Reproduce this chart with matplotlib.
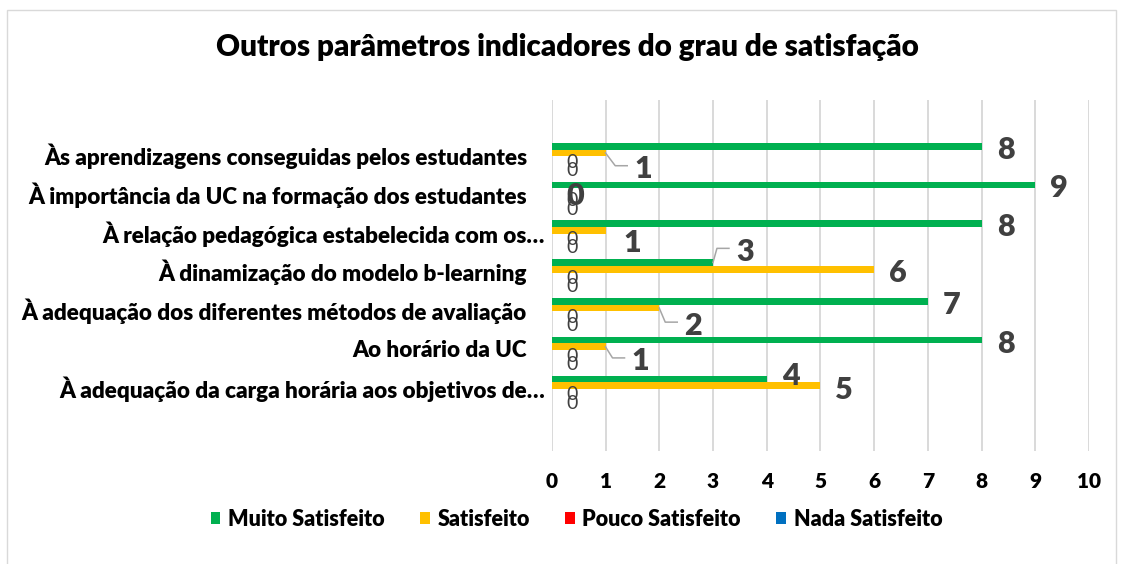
import matplotlib
matplotlib.use("Agg")
import matplotlib.pyplot as plt
import matplotlib.transforms as mtransforms
from matplotlib.patches import Patch, Rectangle

plt.rcParams['font.family'] = ['Lato', 'DejaVu Sans']

# data
cats = [
    "Às aprendizagens conseguidas pelos estudantes",
    "À importância da UC na formação dos estudantes",
    "À relação pedagógica estabelecida com os…",
    "À dinamização do modelo b-learning",
    "À adequação dos diferentes métodos de avaliação",
    "Ao horário da UC",
    "À adequação da carga horária aos objetivos de…",
]
series_names = ["Muito Satisfeito", "Satisfeito", "Pouco Satisfeito", "Nada Satisfeito"]
muito = [8, 9, 8, 3, 7, 8, 4]
satisfeito = [1, 0, 1, 6, 2, 1, 5]
pouco = [0, 0, 0, 0, 0, 0, 0]
nada = [0, 0, 0, 0, 0, 0, 0]
colors = ["#00B050", "#FFC000", "#FF0000", "#0070C0"]

W, H = 1124, 564
fig = plt.figure(figsize=(W / 100, H / 100), dpi=100)
fig.patch.set_facecolor("white")

# plot area in pixels (from the reference)
left, right, top, bottom = 551.8, 1089, 99.5, 451
ax = fig.add_axes([left / W, 1 - bottom / H, (right - left) / W, (bottom - top) / H])

bh = 0.173
offs = [-1.5 * bh, -0.5 * bh, 0.5 * bh, 1.5 * bh]
allvals = [muito, satisfeito, pouco, nada]
ypos = list(range(len(cats)))

for k, vals in enumerate(allvals):
    ax.barh([y + offs[k] for y in ypos], vals, height=bh, color=colors[k],
            edgecolor="none", zorder=3)

ax.set_xlim(0, 10)
ax.set_ylim(7.6, -1.464)
ax.set_xticks(range(0, 11))
ax.set_yticks([])
ax.grid(axis="x", color="#D9D9D9", lw=1.4, zorder=0)
ax.set_axisbelow(True)
for sp in ax.spines.values():
    sp.set_visible(False)
ax.tick_params(axis="x", length=0, labelsize=15, pad=15)
for lab in ax.get_xticklabels():
    lab.set_fontweight("heavy")

# category labels
lab_tr = ax.get_yaxis_transform()
for y, c in zip(ypos, cats):
    shift = -6.8 if c.endswith("…") else -24.8
    tr = lab_tr + mtransforms.ScaledTranslation(shift / 100, 0, fig.dpi_scale_trans)
    ax.text(0, y, c, transform=tr, ha="right", va="center", fontsize=16.2,
            fontweight="heavy", color="black")

# data labels
big = 22
small = 14
lab_col = "#404040"
default_off = [(24, 1.5), (23.5, 2), (20.5, 1.0), (20.5, 2.5)]
special = {
    (1, 0): (37.7, 14.3, True),
    (1, 2): (26.7, 11, False),
    (0, 3): (32, -12.7, True),
    (1, 4): (34, 15.6, True),
    (1, 5): (35, 12.6, True),
    (0, 6): (24, -5, False),
}

for k, vals in enumerate(allvals):
    for i, v in enumerate(vals):
        y = ypos[i] + offs[k]
        dx, dy = default_off[k]
        leader = False
        if (k, i) in special:
            dx, dy, leader = special[(k, i)]
        if k < 2:
            size, weight = big, "heavy"
        else:
            size, weight = small, "normal"
        ax.annotate(str(v), (v, y), xytext=(dx * 0.72, -(dy + 0.5 * size) * 0.72),
                    textcoords="offset points", ha="center", va="baseline",
                    fontsize=size, fontweight=weight, color=lab_col, zorder=5,
                    annotation_clip=False)
        if leader:
            px, py = ax.transData.transform((v, y))
            ly = py - (dy - 1.5)
            ax.plot([px, px + dx - 28, px + dx - 16], [py, ly, ly],
                    transform=mtransforms.IdentityTransform(), color="#A6A6A6",
                    lw=1.1, clip_on=False, zorder=4)

# title
fig.text(567 / W, 1 - 47 / H, "Outros parâmetros indicadores do grau de satisfação",
         ha="center", va="center", fontsize=21.3, fontweight="heavy", color="black")

# legend
handles = [Patch(facecolor=c, edgecolor="none", label=n) for c, n in zip(colors, series_names)]
fig.legend(handles=handles, loc="center", bbox_to_anchor=(576.5 / W, 1 - 519 / H),
           ncol=4, frameon=False, handlelength=0.45, handleheight=0.45,
           handletextpad=0.35, columnspacing=1.65,
           prop={"size": 15.5, "weight": "heavy"})

# chart border
fig.add_artist(Rectangle((7 / W, -0.05), (1116 - 7) / W, 1 - 10 / H + 0.05,
                         transform=fig.transFigure, fill=False, edgecolor="#D9D9D9",
                         lw=1.0))

fig.savefig("out.png", dpi=100)
